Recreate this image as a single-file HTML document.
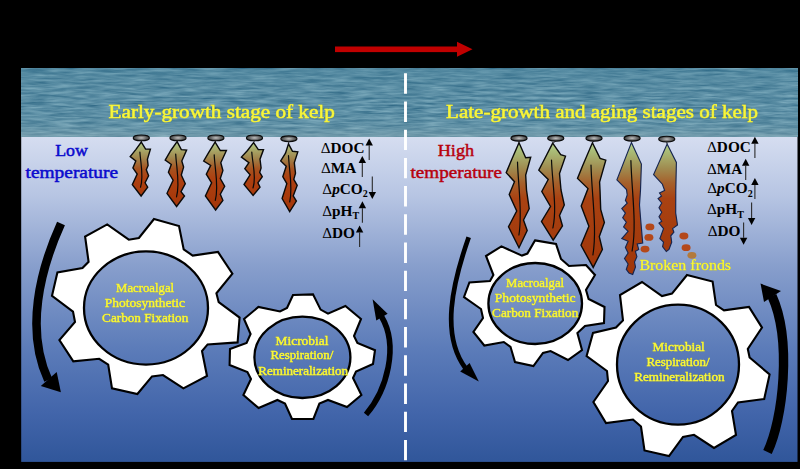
<!DOCTYPE html>
<html lang="en"><head><meta charset="utf-8"><title>Kelp growth stages</title>
<style>html,body{margin:0;padding:0;background:#000;overflow:hidden}svg{display:block}</style>
</head><body>
<svg width="800" height="469" viewBox="0 0 800 469">
<defs>
<linearGradient id="bg" gradientUnits="userSpaceOnUse" x1="0" y1="137" x2="0" y2="462">
<stop offset="0" stop-color="#d5ddf0"/>
<stop offset="0.18" stop-color="#b7c5e3"/>
<stop offset="0.40" stop-color="#879ecc"/>
<stop offset="0.65" stop-color="#5c7cb9"/>
<stop offset="0.85" stop-color="#4265aa"/>
<stop offset="1" stop-color="#30569a"/>
</linearGradient>
<linearGradient id="kgl" gradientUnits="userSpaceOnUse" x1="0" y1="142" x2="0" y2="212">
<stop offset="0" stop-color="#b2ca88"/>
<stop offset="0.10" stop-color="#a9ad6c"/>
<stop offset="0.24" stop-color="#a0824a"/>
<stop offset="0.38" stop-color="#a65320"/>
<stop offset="0.52" stop-color="#ad4010"/>
<stop offset="1" stop-color="#a23509"/>
</linearGradient>
<linearGradient id="kgr" gradientUnits="userSpaceOnUse" x1="0" y1="143" x2="0" y2="275">
<stop offset="0" stop-color="#b0cf88"/>
<stop offset="0.08" stop-color="#a8b672"/>
<stop offset="0.19" stop-color="#a08c50"/>
<stop offset="0.30" stop-color="#a5612c"/>
<stop offset="0.42" stop-color="#a94212"/>
<stop offset="1" stop-color="#9f3508"/>
</linearGradient>
<radialGradient id="flt" cx="0.5" cy="0.5" r="0.6">
<stop offset="0" stop-color="#c4c4c4"/>
<stop offset="0.45" stop-color="#747474"/>
<stop offset="1" stop-color="#242424"/>
</radialGradient>
<filter id="sea" x="0" y="0" width="100%" height="100%" color-interpolation-filters="sRGB">
<feTurbulence type="fractalNoise" baseFrequency="0.04 0.40" numOctaves="3" seed="7" result="n"/>
<feColorMatrix in="n" type="matrix" values="0.42 0 0 0 0.14  0.36 0 0 0 0.37  0.30 0 0 0 0.49  0 0 0 0 1"/>
</filter>
<filter id="halo" x="-5%" y="-30%" width="110%" height="160%"><feDropShadow dx="0" dy="0" stdDeviation="0.55" flood-color="#4a4a10" flood-opacity="0.75"/></filter>
<linearGradient id="seashade" x1="0" y1="0" x2="0" y2="1">
<stop offset="0" stop-color="#3f7c96" stop-opacity="0.30"/>
<stop offset="0.55" stop-color="#6d9cae" stop-opacity="0.0"/>
<stop offset="0.85" stop-color="#86a8b2" stop-opacity="0.18"/>
<stop offset="1" stop-color="#90adb6" stop-opacity="0.5"/>
</linearGradient>
</defs>
<rect width="800" height="469" fill="#000"/>
<rect x="21.2" y="68.6" width="776.3" height="393.3" fill="url(#bg)"/>
<rect x="21.2" y="68.6" width="776.3" height="68.2" fill="#5a8fa5"/>
<rect x="21.2" y="68.6" width="776.3" height="68.2" filter="url(#sea)"/>
<rect x="21.2" y="68.6" width="776.3" height="68.2" fill="url(#seashade)"/>
<rect x="335" y="46.5" width="124" height="5.6" fill="#c00000"/><polygon points="457,41.8 472.5,49.3 457,56.8" fill="#c00000"/>
<line x1="405.5" y1="73.3" x2="405.5" y2="462" stroke="#fff" stroke-width="2.9" stroke-dasharray="20.4 7.8"/>
<polygon points="154.0,219.0 179.0,226.0 183.7,249.4 192.7,255.6 218.0,252.0 232.4,273.6 216.4,293.3 218.7,302.2 239.6,317.6 237.6,342.4 207.6,344.4 202.0,351.0 207.0,376.0 183.4,388.4 163.0,375.0 152.0,376.4 137.4,394.0 112.0,388.4 108.2,364.6 99.2,358.8 73.3,361.3 59.4,340.0 75.0,322.0 73.0,311.6 52.0,295.8 57.4,272.5 82.5,268.0 88.6,261.8 85.1,236.5 107.2,224.4 128.8,239.7 138.9,238.0" fill="#fff" stroke="#000" stroke-width="2.1" stroke-linejoin="miter"/><ellipse cx="146" cy="308" rx="62" ry="56.6" fill="url(#bg)" stroke="#000" stroke-width="2.3"/>
<polygon points="293.0,295.0 313.0,294.4 320.6,309.6 328.0,313.6 345.4,306.0 361.0,319.0 354.0,336.0 357.4,343.0 375.0,350.2 373.0,364.0 356.0,371.6 353.0,378.0 361.4,395.0 347.0,407.0 328.0,400.0 319.4,403.6 313.4,419.0 292.0,419.0 285.0,403.6 277.4,400.0 258.6,408.0 243.4,395.0 251.0,379.0 247.4,372.0 229.6,365.0 230.0,349.0 246.6,343.0 250.6,334.0 244.0,319.0 258.4,307.0 280.0,311.5 287.0,308.0" fill="#fff" stroke="#000" stroke-width="2.1" stroke-linejoin="miter"/><ellipse cx="302.4" cy="357.3" rx="48" ry="40.7" fill="url(#bg)" stroke="#000" stroke-width="2.3"/>
<polygon points="535.0,240.4 556.0,244.0 561.0,259.0 569.0,266.0 586.0,265.0 595.0,275.0 586.0,290.0 588.6,299.0 604.5,307.0 604.0,323.0 585.0,326.0 577.4,333.0 582.0,350.0 568.0,360.0 550.6,351.0 543.0,353.0 533.4,366.0 515.0,362.0 510.5,346.8 503.8,342.0 484.3,345.5 473.4,332.0 483.0,318.0 481.0,309.0 464.0,297.0 469.4,282.4 490.0,281.0 493.4,275.0 486.0,256.0 501.4,246.4 522.0,255.6 527.4,253.6" fill="#fff" stroke="#000" stroke-width="2.1" stroke-linejoin="miter"/><ellipse cx="535.2" cy="303.5" rx="46.8" ry="40.5" fill="url(#bg)" stroke="#000" stroke-width="2.3"/>
<polygon points="687.0,275.0 712.6,281.6 716.0,305.0 724.0,310.4 749.0,307.0 762.0,327.6 747.8,349.0 749.6,357.5 769.6,374.5 764.2,399.0 738.0,402.5 732.0,411.0 736.0,435.0 714.0,448.0 694.0,434.8 683.0,437.0 669.0,456.0 644.5,450.5 641.0,426.5 633.0,419.5 606.0,423.0 593.4,402.0 608.0,381.0 607.0,371.0 586.6,356.0 593.0,333.0 616.0,327.6 623.0,320.4 620.0,295.0 642.0,282.0 662.0,296.0 672.0,293.6" fill="#fff" stroke="#000" stroke-width="2.1" stroke-linejoin="miter"/><ellipse cx="678" cy="364.6" rx="61" ry="60" fill="url(#bg)" stroke="#000" stroke-width="2.3"/>
<line x1="141.3" y1="140.9" x2="141.3" y2="142.1" stroke="#111" stroke-width="0.8"/><polygon points="141.3,142.1 145.6,149.1 150.4,149.1 147.4,159.2 148.1,165.4 146.3,169.7 148.6,175.8 145.1,182.8 147.7,187.2 141.1,196.0 132.3,184.6 137.2,174.1 132.9,168.0 135.8,161.0 130.2,156.6 135.8,149.6" fill="url(#kgl)" stroke="#0a0a0a" stroke-width="1.4" stroke-linejoin="miter"/><path d="M139.9,152.2 C140.7,164.4 144.0,176.7 140.5,187.2" fill="none" stroke="#0a0a0a" stroke-width="1.2" stroke-linecap="round"/><ellipse cx="141.3" cy="137.9" rx="8.1" ry="2.9" fill="url(#flt)" stroke="#0a0a0a" stroke-width="1.1"/>
<line x1="178" y1="140.9" x2="177.1" y2="141.7" stroke="#111" stroke-width="0.8"/><polygon points="177.1,141.7 181.3,149.6 186.6,150.1 181.8,161.0 183.6,167.1 181.3,175.0 185.3,183.7 181.0,191.6 184.5,196.0 176.6,206.5 167.0,193.3 173.1,180.2 168.4,172.3 171.3,164.5 165.2,160.1 170.8,150.5" fill="url(#kgl)" stroke="#0a0a0a" stroke-width="1.4" stroke-linejoin="miter"/><path d="M175.7,154 C176.5,169.0 180.2,184.0 176.5,196.8" fill="none" stroke="#0a0a0a" stroke-width="1.2" stroke-linecap="round"/><ellipse cx="178" cy="137.9" rx="8.1" ry="2.9" fill="url(#flt)" stroke="#0a0a0a" stroke-width="1.1"/>
<line x1="215.9" y1="140.9" x2="215.1" y2="142.1" stroke="#111" stroke-width="0.8"/><polygon points="215.1,142.1 220.3,150.5 226.4,150.5 220.8,162.7 222.9,170.6 220.3,178.5 224.7,186.3 220.3,194.2 222.9,200.3 215.6,210.0 205.4,196.0 211.6,182.8 206.3,174.1 210.7,165.4 203.7,161.0 208.9,152.2" fill="url(#kgl)" stroke="#0a0a0a" stroke-width="1.4" stroke-linejoin="miter"/><path d="M214.2,154.9 C215.0,170.8 219.0,186.7 215.3,200.3" fill="none" stroke="#0a0a0a" stroke-width="1.2" stroke-linecap="round"/><ellipse cx="215.9" cy="137.9" rx="8.1" ry="2.9" fill="url(#flt)" stroke="#0a0a0a" stroke-width="1.1"/>
<line x1="254.5" y1="140.9" x2="253.6" y2="142.6" stroke="#111" stroke-width="0.8"/><polygon points="253.6,142.6 258.3,149.6 263.5,149.6 260.0,159.2 261.1,167.9 259.7,172.3 262.3,176.7 257.9,182.8 260.0,187.1 253.1,195.5 244.0,184.5 250.1,174.9 244.8,168.8 248.9,162.7 241.4,157.1 247.5,150.5" fill="url(#kgl)" stroke="#0a0a0a" stroke-width="1.4" stroke-linejoin="miter"/><path d="M251.8,152.2 C252.6,164.7 256.7,177.3 253.0,188" fill="none" stroke="#0a0a0a" stroke-width="1.2" stroke-linecap="round"/><ellipse cx="254.5" cy="137.9" rx="8.1" ry="2.9" fill="url(#flt)" stroke="#0a0a0a" stroke-width="1.1"/>
<line x1="288.9" y1="141.8" x2="288.5" y2="143.8" stroke="#111" stroke-width="0.8"/><polygon points="288.5,143.8 292.5,151.3 297.8,151.9 294.3,162.7 295.5,173.2 293.8,179.3 297.2,185.4 293.2,195.9 296.4,201.1 289.7,211.6 282.1,198.5 286.8,183.7 282.8,176.7 286.2,166.2 280.7,161.0 285.5,153.1" fill="url(#kgl)" stroke="#0a0a0a" stroke-width="1.4" stroke-linejoin="miter"/><path d="M288.5,155.7 C289.3,171.9 293.0,188.1 289.7,202" fill="none" stroke="#0a0a0a" stroke-width="1.2" stroke-linecap="round"/><ellipse cx="288.9" cy="138.8" rx="8.1" ry="2.9" fill="url(#flt)" stroke="#0a0a0a" stroke-width="1.1"/>
<line x1="519" y1="141.25" x2="519" y2="142.75" stroke="#111" stroke-width="0.8"/><polygon points="519.0,142.8 525.7,157.7 530.7,157.3 525.7,175.0 526.5,190.0 529.2,208.7 523.5,220.0 527.2,230.5 519.0,247.7 508.5,226.7 516.7,211.0 509.2,194.5 514.5,181.7 506.2,172.7 511.5,160.0" fill="url(#kgr)" stroke="#0a0a0a" stroke-width="1.4" stroke-linejoin="miter"/><path d="M517.5,162 C518.3,187.6 522.7,213.1 518.9,235" fill="none" stroke="#0a0a0a" stroke-width="1.2" stroke-linecap="round"/><ellipse cx="519" cy="138.25" rx="8.1" ry="2.9" fill="url(#flt)" stroke="#0a0a0a" stroke-width="1.1"/>
<line x1="555.75" y1="141.25" x2="552.7" y2="143.2" stroke="#111" stroke-width="0.8"/><polygon points="552.7,143.2 560.7,154.7 565.5,156.2 559.5,173.5 561.0,190.0 564.3,205.0 559.5,215.5 562.5,226.0 553.2,240.2 541.5,221.5 550.5,206.5 541.8,191.5 548.2,179.5 538.8,170.2 543.0,162.0" fill="url(#kgr)" stroke="#0a0a0a" stroke-width="1.4" stroke-linejoin="miter"/><path d="M551.5,160 C552.3,183.8 557.2,207.6 552.9,228" fill="none" stroke="#0a0a0a" stroke-width="1.2" stroke-linecap="round"/><ellipse cx="555.75" cy="138.25" rx="8.1" ry="2.9" fill="url(#flt)" stroke="#0a0a0a" stroke-width="1.1"/>
<line x1="594" y1="141.25" x2="592.4" y2="142.8" stroke="#111" stroke-width="0.8"/><polygon points="592.4,142.8 600.1,158.3 605.8,160.1 599.6,182.0 600.0,190.0 600.7,209.5 604.4,222.5 599.3,236.6 602.4,249.5 593.2,267.4 581.0,245.3 588.9,226.2 581.2,206.0 588.0,188.6 577.5,178.4 582.3,166.4" fill="url(#kgr)" stroke="#0a0a0a" stroke-width="1.4" stroke-linejoin="miter"/><path d="M591,165 C591.8,196.5 597.2,228.0 592.9,255" fill="none" stroke="#0a0a0a" stroke-width="1.2" stroke-linecap="round"/><ellipse cx="594" cy="138.25" rx="8.1" ry="2.9" fill="url(#flt)" stroke="#0a0a0a" stroke-width="1.1"/>
<line x1="632.1" y1="141.2" x2="631.4" y2="142.6" stroke="#111" stroke-width="0.8"/><polygon points="631.4,142.6 641.4,164.1 640.5,190.0 639.5,205.0 640.9,222.2 642.7,243.1 637.2,244.0 638.7,249.4 635.4,251.3 636.9,256.7 634.5,262.0 635.5,267.0 632.7,274.5 629.0,273.0 626.3,269.4 628.1,264.0 624.5,258.5 628.1,253.0 625.4,247.6 628.1,241.3 621.8,238.6 628.1,231.3 623.6,226.8 626.3,222.2 622.7,217.7 625.4,213.1 621.8,208.6 627.2,203.2 625.4,200.4 627.2,195.0 626.5,189.5 616.9,179.9" fill="url(#kgr)" stroke="#16254f" stroke-width="1.15" stroke-linejoin="miter"/><path d="M630.9,160.6 C631.7,192.2 637.0,223.9 632.1,251" fill="none" stroke="#0a0a0a" stroke-width="1.2" stroke-linecap="round"/><ellipse cx="632.1" cy="138.2" rx="8.1" ry="2.9" fill="url(#flt)" stroke="#0a0a0a" stroke-width="1.1"/>
<line x1="666.75" y1="142.1" x2="667.1" y2="144" stroke="#111" stroke-width="0.8"/><polygon points="667.1,144.0 676.4,162.4 675.8,190.0 675.7,213.1 677.5,225.0 672.6,228.6 673.9,232.2 670.8,235.8 671.7,242.2 669.0,249.4 666.3,251.5 662.6,246.7 663.5,242.2 659.9,238.6 663.5,228.6 659.0,223.1 661.7,221.3 659.0,216.8 661.7,212.2 659.0,207.7 661.7,203.0 658.1,198.6 661.5,196.0 659.5,193.0 664.6,190.4 662.4,184.2 653.6,174.6" fill="url(#kgr)" stroke="#16254f" stroke-width="1.15" stroke-linejoin="miter"/><ellipse cx="666.75" cy="139.1" rx="8.1" ry="2.9" fill="url(#flt)" stroke="#0a0a0a" stroke-width="1.1"/>
<ellipse cx="649.9" cy="226.9" rx="4.5" ry="3.4" fill="#b4481a"/><ellipse cx="648.9" cy="237.4" rx="4.5" ry="3.4" fill="#b4481a"/><ellipse cx="645" cy="249.1" rx="4.5" ry="3.4" fill="#b4481a"/><ellipse cx="683.9" cy="236" rx="4.5" ry="3.4" fill="#b4481a"/><ellipse cx="686.1" cy="247.7" rx="4.5" ry="3.4" fill="#b4481a"/><ellipse cx="691.9" cy="255.3" rx="4.5" ry="3.4" fill="#b27a3c"/>
<path d="M61,223.5 C40,270 25,330 48.2,380" fill="none" stroke="#000" stroke-width="8.6" stroke-linecap="butt"/><polygon points="40.8,386.0 56.7,372.0 60.9,392.2" fill="#000"/>
<path d="M366,414.5 C387,390 399,346 381.5,316.5" fill="none" stroke="#000" stroke-width="5.6" stroke-linecap="butt"/><polygon points="376.3,320.6 387.6,313.8 372.6,299.3" fill="#000"/>
<path d="M468.7,237.2 C452,285 441,335 465.3,368" fill="none" stroke="#000" stroke-width="4.7" stroke-linecap="butt"/><polygon points="460.2,371.5 469.6,363.0 478.8,381.6" fill="#000"/>
<path d="M767.5,452 C783,420 792,340 772,296" fill="none" stroke="#000" stroke-width="9.4" stroke-linecap="butt"/><polygon points="781.0,291.0 764.0,302.0 760.5,283.6" fill="#000"/>
<line x1="369.2" y1="145.5" x2="369.2" y2="160" stroke="#2a2a2a" stroke-width="1.1"/><polygon points="369.2,138.5 365.5,145.5 372.9,145.5" fill="#000"/>
<line x1="362.3" y1="163.0" x2="362.3" y2="177.1" stroke="#2a2a2a" stroke-width="1.1"/><polygon points="362.3,156 358.6,163.0 366.0,163.0" fill="#000"/>
<line x1="372.3" y1="191.9" x2="372.3" y2="176.4" stroke="#2a2a2a" stroke-width="1.1"/><polygon points="372.3,198.9 368.6,191.9 376.0,191.9" fill="#000"/>
<line x1="362.4" y1="208.3" x2="362.4" y2="222.7" stroke="#2a2a2a" stroke-width="1.1"/><polygon points="362.4,201.3 358.7,208.3 366.09999999999997,208.3" fill="#000"/>
<line x1="359.6" y1="232.5" x2="359.6" y2="246.9" stroke="#2a2a2a" stroke-width="1.1"/><polygon points="359.6,225.5 355.90000000000003,232.5 363.3,232.5" fill="#000"/>
<line x1="754.9" y1="143.8" x2="754.9" y2="158.1" stroke="#2a2a2a" stroke-width="1.1"/><polygon points="754.9,136.8 751.1999999999999,143.8 758.6,143.8" fill="#000"/>
<line x1="745.7" y1="165.7" x2="745.7" y2="180.1" stroke="#2a2a2a" stroke-width="1.1"/><polygon points="745.7,158.7 742.0,165.7 749.4000000000001,165.7" fill="#000"/>
<line x1="754.9" y1="185.1" x2="754.9" y2="199.1" stroke="#2a2a2a" stroke-width="1.1"/><polygon points="754.9,178.1 751.1999999999999,185.1 758.6,185.1" fill="#000"/>
<line x1="751.6" y1="217.9" x2="751.6" y2="202.6" stroke="#2a2a2a" stroke-width="1.1"/><polygon points="751.6,224.9 747.9,217.9 755.3000000000001,217.9" fill="#000"/>
<line x1="743.6" y1="237.8" x2="743.6" y2="222.5" stroke="#2a2a2a" stroke-width="1.1"/><polygon points="743.6,244.8 739.9,237.8 747.3000000000001,237.8" fill="#000"/>
<text x="108.6" y="117.7" font-family='"Liberation Serif", serif' font-size="19.3" fill="#f7f63d" text-anchor="start" font-weight="normal" textLength="226.2" lengthAdjust="spacingAndGlyphs" stroke="#f7f63d" stroke-width="0.5" filter="url(#halo)">Early-growth stage of kelp</text>
<text x="446.1" y="117.7" font-family='"Liberation Serif", serif' font-size="19.3" fill="#f7f63d" text-anchor="start" font-weight="normal" textLength="312" lengthAdjust="spacingAndGlyphs" stroke="#f7f63d" stroke-width="0.5" filter="url(#halo)">Late-growth and aging stages of kelp</text>
<text x="55.2" y="155.9" font-family='"Liberation Serif", serif' font-size="17.5" fill="#0a0acd" text-anchor="start" font-weight="normal" textLength="32.7" lengthAdjust="spacingAndGlyphs" stroke="#0a0acd" stroke-width="0.5">Low</text>
<text x="25.5" y="177.5" font-family='"Liberation Serif", serif' font-size="17.5" fill="#0a0acd" text-anchor="start" font-weight="normal" textLength="92.6" lengthAdjust="spacingAndGlyphs" stroke="#0a0acd" stroke-width="0.5">temperature</text>
<text x="437.7" y="156.4" font-family='"Liberation Serif", serif' font-size="17.5" fill="#b8000c" text-anchor="start" font-weight="normal" textLength="36.5" lengthAdjust="spacingAndGlyphs" stroke="#b8000c" stroke-width="0.45">High</text>
<text x="410.5" y="177.8" font-family='"Liberation Serif", serif' font-size="17.5" fill="#b8000c" text-anchor="start" font-weight="normal" textLength="91.4" lengthAdjust="spacingAndGlyphs" stroke="#b8000c" stroke-width="0.45">temperature</text>
<text x="639.4" y="269.6" font-family='"Liberation Serif", serif' font-size="15" fill="#f7f63d" text-anchor="start" font-weight="normal" textLength="91.7" lengthAdjust="spacingAndGlyphs" stroke="#f7f63d" stroke-width="0.3" filter="url(#halo)">Broken fronds</text>
<text x="116.1" y="292.2" font-family='"Liberation Serif", serif' font-size="12.8" fill="#f7f63d" text-anchor="start" font-weight="normal" textLength="58.0" lengthAdjust="spacingAndGlyphs" stroke="#f7f63d" stroke-width="0.42" filter="url(#halo)">Macroalgal</text>
<text x="104.8" y="307.0" font-family='"Liberation Serif", serif' font-size="12.8" fill="#f7f63d" text-anchor="start" font-weight="normal" textLength="80.3" lengthAdjust="spacingAndGlyphs" stroke="#f7f63d" stroke-width="0.42" filter="url(#halo)">Photosynthetic</text>
<text x="102.1" y="322.4" font-family='"Liberation Serif", serif' font-size="12.8" fill="#f7f63d" text-anchor="start" font-weight="normal" textLength="86.2" lengthAdjust="spacingAndGlyphs" stroke="#f7f63d" stroke-width="0.42" filter="url(#halo)">Carbon Fixation</text>
<text x="275.6" y="344.59999999999997" font-family='"Liberation Serif", serif' font-size="12.8" fill="#f7f63d" text-anchor="start" font-weight="normal" textLength="52.8" lengthAdjust="spacingAndGlyphs" stroke="#f7f63d" stroke-width="0.42" filter="url(#halo)">Microbial</text>
<text x="270.4" y="359.4" font-family='"Liberation Serif", serif' font-size="12.8" fill="#f7f63d" text-anchor="start" font-weight="normal" textLength="62.9" lengthAdjust="spacingAndGlyphs" stroke="#f7f63d" stroke-width="0.42" filter="url(#halo)">Respiration/</text>
<text x="258.3" y="374.8" font-family='"Liberation Serif", serif' font-size="12.8" fill="#f7f63d" text-anchor="start" font-weight="normal" textLength="89.8" lengthAdjust="spacingAndGlyphs" stroke="#f7f63d" stroke-width="0.42" filter="url(#halo)">Remineralization</text>
<text x="506.1" y="287.2" font-family='"Liberation Serif", serif' font-size="12.8" fill="#f7f63d" text-anchor="start" font-weight="normal" textLength="58.0" lengthAdjust="spacingAndGlyphs" stroke="#f7f63d" stroke-width="0.42" filter="url(#halo)">Macroalgal</text>
<text x="494.8" y="302.0" font-family='"Liberation Serif", serif' font-size="12.8" fill="#f7f63d" text-anchor="start" font-weight="normal" textLength="80.8" lengthAdjust="spacingAndGlyphs" stroke="#f7f63d" stroke-width="0.42" filter="url(#halo)">Photosynthetic</text>
<text x="492.1" y="317.4" font-family='"Liberation Serif", serif' font-size="12.8" fill="#f7f63d" text-anchor="start" font-weight="normal" textLength="86.2" lengthAdjust="spacingAndGlyphs" stroke="#f7f63d" stroke-width="0.42" filter="url(#halo)">Carbon Fixation</text>
<text x="652.6" y="350.5" font-family='"Liberation Serif", serif' font-size="12.8" fill="#f7f63d" text-anchor="start" font-weight="normal" textLength="52.2" lengthAdjust="spacingAndGlyphs" stroke="#f7f63d" stroke-width="0.42" filter="url(#halo)">Microbial</text>
<text x="646.4" y="365.59999999999997" font-family='"Liberation Serif", serif' font-size="12.8" fill="#f7f63d" text-anchor="start" font-weight="normal" textLength="63.2" lengthAdjust="spacingAndGlyphs" stroke="#f7f63d" stroke-width="0.42" filter="url(#halo)">Respiration/</text>
<text x="634.3" y="381.09999999999997" font-family='"Liberation Serif", serif' font-size="12.8" fill="#f7f63d" text-anchor="start" font-weight="normal" textLength="90.2" lengthAdjust="spacingAndGlyphs" stroke="#f7f63d" stroke-width="0.42" filter="url(#halo)">Remineralization</text>
<text x="320.7" y="152.60000000000002" font-family='"Liberation Serif", serif' font-size="15.3" font-weight="bold" fill="#000"><tspan font-weight="normal">Δ</tspan>DOC</text>
<text x="320.9" y="172.75" font-family='"Liberation Serif", serif' font-size="15.3" font-weight="bold" fill="#000"><tspan font-weight="normal">Δ</tspan>MA</text>
<text x="322.3" y="193.55" font-family='"Liberation Serif", serif' font-size="15.3" font-weight="bold" fill="#000"><tspan font-weight="normal">Δ</tspan><tspan font-style="italic">p</tspan>CO<tspan font-size="10" dy="3.3">2</tspan></text>
<text x="322.2" y="215.75" font-family='"Liberation Serif", serif' font-size="15.3" font-weight="bold" fill="#000"><tspan font-weight="normal">Δ</tspan>pH<tspan font-size="10" dy="3.6">T</tspan></text>
<text x="322.2" y="238.15" font-family='"Liberation Serif", serif' font-size="15.3" font-weight="bold" fill="#000"><tspan font-weight="normal">Δ</tspan>DO</text>
<text x="707.0" y="152.45000000000002" font-family='"Liberation Serif", serif' font-size="15.3" font-weight="bold" fill="#000"><tspan font-weight="normal">Δ</tspan>DOC</text>
<text x="707.0" y="173.65" font-family='"Liberation Serif", serif' font-size="15.3" font-weight="bold" fill="#000"><tspan font-weight="normal">Δ</tspan>MA</text>
<text x="707.2" y="193.45000000000002" font-family='"Liberation Serif", serif' font-size="15.3" font-weight="bold" fill="#000"><tspan font-weight="normal">Δ</tspan><tspan font-style="italic">p</tspan>CO<tspan font-size="10" dy="3.3">2</tspan></text>
<text x="707.0" y="214.15" font-family='"Liberation Serif", serif' font-size="15.3" font-weight="bold" fill="#000"><tspan font-weight="normal">Δ</tspan>pH<tspan font-size="10" dy="3.6">T</tspan></text>
<text x="707.7" y="236.15" font-family='"Liberation Serif", serif' font-size="15.3" font-weight="bold" fill="#000"><tspan font-weight="normal">Δ</tspan>DO</text>
</svg>
</body></html>
